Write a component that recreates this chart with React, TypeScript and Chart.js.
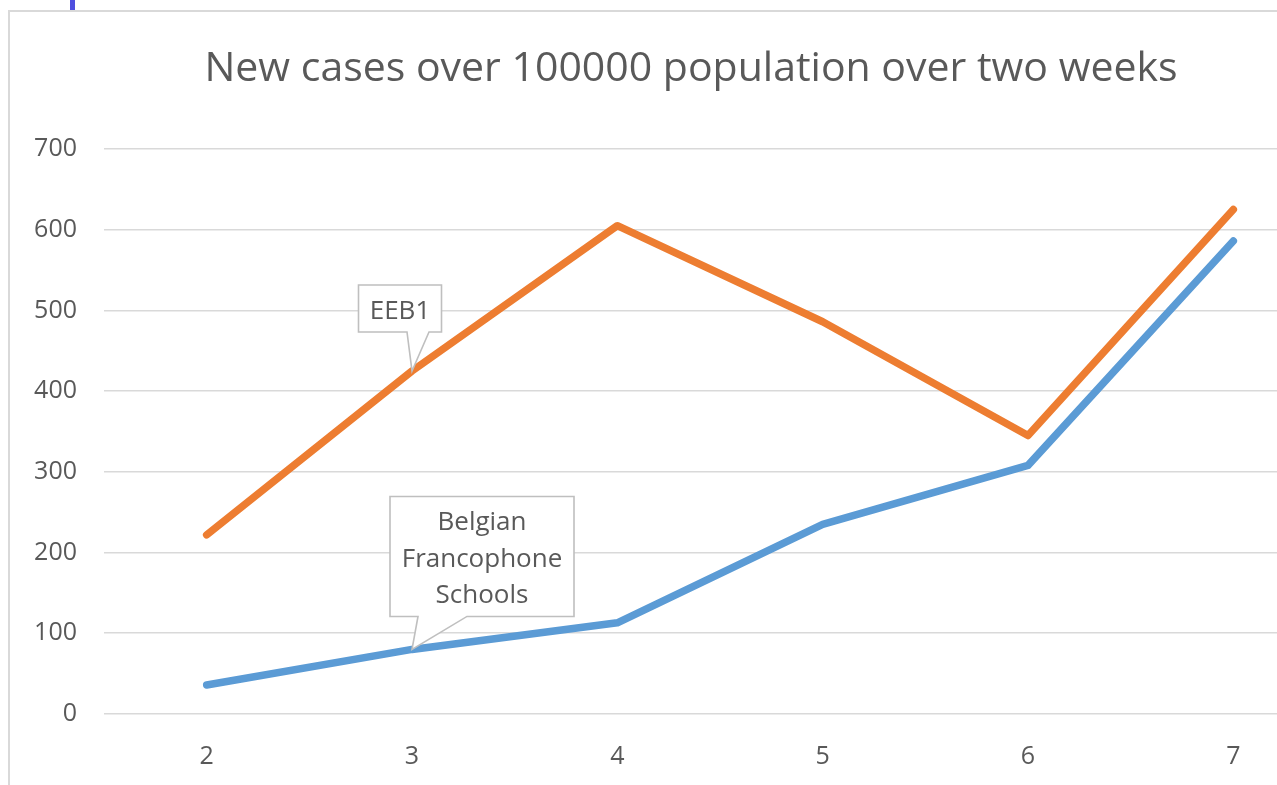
import React, { useEffect, useRef } from "react";
import { Chart, registerables } from "chart.js";

Chart.register(...registerables);

// ---- data ----
const categories = ["2", "3", "4", "5", "6", "7"];
const eeb1Values = [222, 425, 605, 486, 345, 625];
const belgianValues = [36, 80, 113, 235, 308, 586];
const yMin = 0;
const yMax = 700;
const yStep = 100;
const titleText = "New cases over 100000 population over two weeks";
const eeb1Callout = ["EEB1"];
const belgianCallout = ["Belgian", "Francophone", "Schools"];
const calloutIndex = 1;

const FONT = "'Open Sans', 'Noto Sans', sans-serif";
const TEXT = "#595959";
const ORANGE = "#ED7D31";
const BLUE = "#5B9BD5";
const GRID = "#d9d9d9";

const titlePlugin = {
  id: "centerTitle",
  afterDraw(chart: any, _args: any, opts: any) {
    const ctx = chart.ctx;
    ctx.save();
    ctx.fillStyle = TEXT;
    ctx.font = `${opts.size}px ${FONT}`;
    ctx.textAlign = "center";
    ctx.textBaseline = "middle";
    ctx.fillText(opts.text, chart.width / 2, opts.y);
    ctx.restore();
  },
};

const calloutPlugin = {
  id: "callouts",
  afterDatasetsDraw(chart: any, _args: any, opts: any) {
    const ctx = chart.ctx;
    (opts.items || []).forEach((it: any) => {
      const meta = chart.getDatasetMeta(it.dataset);
      const pt = meta.data[it.index];
      if (!pt) return;
      const tipX = pt.x;
      const tipY = pt.y;
      const cx = tipX + it.dx;
      const bottom = tipY + it.dy;
      const left = cx - it.w / 2;
      const right = cx + it.w / 2;
      const top = bottom - it.h;
      ctx.save();
      ctx.beginPath();
      ctx.moveTo(left, top);
      ctx.lineTo(right, top);
      ctx.lineTo(right, bottom);
      ctx.lineTo(tipX + it.baseR, bottom);
      ctx.lineTo(tipX, tipY);
      ctx.lineTo(tipX + it.baseL, bottom);
      ctx.lineTo(left, bottom);
      ctx.closePath();
      ctx.fillStyle = "#ffffff";
      ctx.fill();
      ctx.lineWidth = 1.6;
      ctx.strokeStyle = "#bfbfbf";
      ctx.lineJoin = "miter";
      ctx.stroke();
      ctx.fillStyle = TEXT;
      ctx.font = `${it.fontSize}px ${FONT}`;
      ctx.textAlign = "center";
      ctx.textBaseline = "middle";
      const n = it.lines.length;
      const midY = (top + bottom) / 2 + 3;
      it.lines.forEach((ln: string, i: number) => {
        ctx.fillText(ln, cx, midY + (i - (n - 1) / 2) * it.lineHeight);
      });
      ctx.restore();
    });
  },
};

function LineChart() {
  const ref = useRef<HTMLCanvasElement | null>(null);
  useEffect(() => {
    if (!ref.current) return;
    const chart = new Chart(ref.current, {
      type: "line",
      data: {
        labels: categories,
        datasets: [
          {
            label: "Belgian Francophone Schools",
            data: belgianValues,
            borderColor: BLUE,
            backgroundColor: BLUE,
            borderWidth: 7.5,
            pointRadius: 0,
            tension: 0,
            borderCapStyle: "round",
            borderJoinStyle: "round",
          },
          {
            label: "EEB1",
            data: eeb1Values,
            borderColor: ORANGE,
            backgroundColor: ORANGE,
            borderWidth: 7.5,
            pointRadius: 0,
            tension: 0,
            borderCapStyle: "round",
            borderJoinStyle: "round",
          },
        ],
      },
      options: {
        responsive: false,
        animation: false,
        layout: { padding: { left: 0, right: 36, top: 137, bottom: 12 } },
        plugins: {
          legend: { display: false },
          tooltip: { enabled: false },
          title: { display: false },
          centerTitle: { text: titleText, size: 41, y: 57 },
          callouts: {
            items: [
              { dataset: 1, index: calloutIndex, lines: eeb1Callout, dx: -12, dy: -39, w: 83, h: 47, baseL: -5, baseR: 17, fontSize: 26, lineHeight: 36.5 },
              { dataset: 0, index: calloutIndex, lines: belgianCallout, dx: 70, dy: -33, w: 184, h: 120, baseL: 6, baseR: 55, fontSize: 26, lineHeight: 36.5 },
            ],
          },
        } as any,
        scales: {
          x: {
            offset: true,
            grid: { display: false, drawTicks: false },
            border: { display: false },
            ticks: { color: TEXT, font: { family: FONT, size: 25 }, padding: 28 },
          },
          y: {
            min: yMin,
            max: yMax,
            grid: { color: GRID, lineWidth: 1.6, drawTicks: false },
            border: { display: false },
            ticks: { stepSize: yStep, color: TEXT, font: { family: FONT, size: 25 }, padding: 27 },
            afterFit: (scale: any) => {
              scale.width = 94;
            },
          },
        },
      },
      plugins: [calloutPlugin, titlePlugin],
    } as any);
    return () => chart.destroy();
  }, []);
  return <canvas ref={ref} width={1362} height={800} style={{ display: "block", width: 1362, height: 800 }} />;
}

export default function App() {
  return (
    <div style={{ position: "fixed", left: 0, top: 0, width: 1277, height: 785, overflow: "hidden", background: "#ffffff" }}>
      <div style={{ position: "absolute", left: 70, top: 0, width: 5, height: 10, background: "#4f4fdf" }} />
      <div
        style={{
          position: "absolute",
          left: 8,
          top: 10,
          width: 1366,
          height: 804,
          border: `2px solid ${GRID}`,
          boxSizing: "border-box",
          background: "#ffffff",
        }}
      >
        <LineChart />
      </div>
    </div>
  );
}
